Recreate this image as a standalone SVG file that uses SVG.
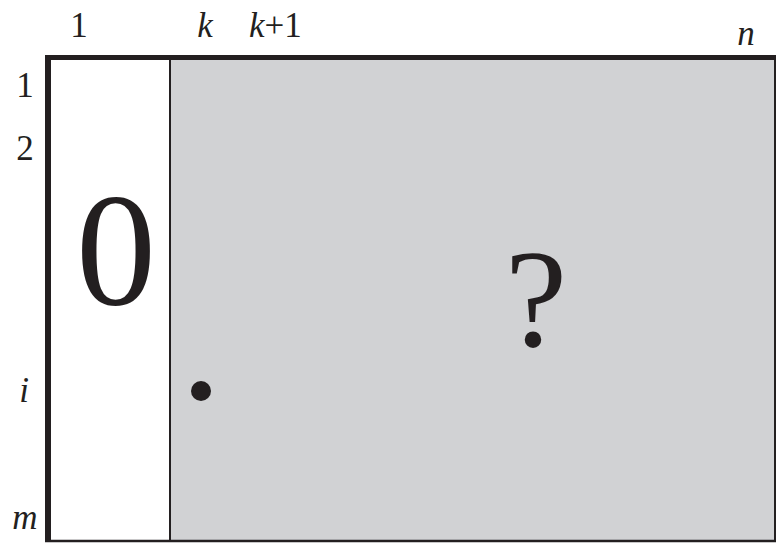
<svg xmlns="http://www.w3.org/2000/svg" width="776" height="543" viewBox="0 0 776 543">
<rect width="776" height="543" fill="#fff"/>
<g id="matrix">
<rect x="170" y="57" width="605" height="484" fill="#d1d2d4"/>
<line x1="170" y1="57" x2="170" y2="541" stroke="#231f20" stroke-width="2"/>
<line x1="775" y1="57" x2="775" y2="541" stroke="#231f20" stroke-width="2"/>
<line x1="45" y1="541" x2="776" y2="541" stroke="#231f20" stroke-width="2.5"/>
<line x1="45" y1="57.5" x2="776" y2="57.5" stroke="#231f20" stroke-width="5"/>
<line x1="48" y1="55" x2="48" y2="542" stroke="#231f20" stroke-width="6"/>
</g>
<g id="zero"><text x="116" y="304" font-family="Liberation Serif" fill="#231f20" font-size="160" text-anchor="middle">0</text></g>
<g id="question"><text x="536" y="346" font-family="Liberation Serif" fill="#231f20" font-size="140" text-anchor="middle">?</text></g>
<g id="col-labels">
<text x="79" y="37" font-family="Liberation Serif" fill="#231f20" font-size="35" text-anchor="middle">1</text>
<text x="205" y="37" font-family="Liberation Serif" fill="#231f20" font-size="35" font-style="italic" text-anchor="middle">k</text>
<text x="249" y="37" font-family="Liberation Serif" fill="#231f20" font-size="35"><tspan font-style="italic">k</tspan>+1</text>
<text x="746" y="45" font-family="Liberation Serif" fill="#231f20" font-size="35" font-style="italic" text-anchor="middle">n</text>
</g>
<g id="row-labels">
<text x="25" y="97" font-family="Liberation Serif" fill="#231f20" font-size="35" text-anchor="middle">1</text>
<text x="25" y="160" font-family="Liberation Serif" fill="#231f20" font-size="35" text-anchor="middle">2</text>
<text x="24" y="402" font-family="Liberation Serif" fill="#231f20" font-size="35" font-style="italic" text-anchor="middle">i</text>
<text x="25" y="529" font-family="Liberation Serif" fill="#231f20" font-size="35" font-style="italic" text-anchor="middle">m</text>
</g>
<g id="dot"><circle cx="201" cy="391" r="10" fill="#231f20"/></g>
</svg>
